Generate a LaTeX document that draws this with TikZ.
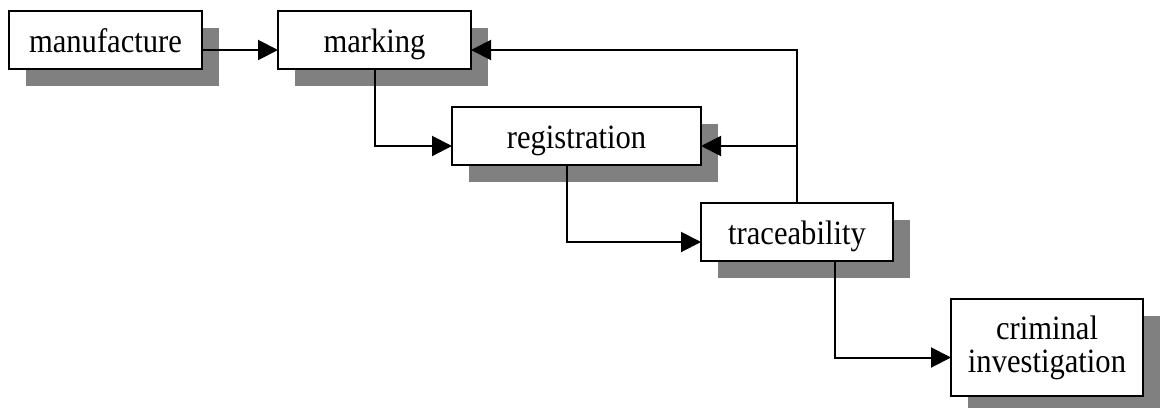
\documentclass[tikz,border=0pt]{standalone}
\usepackage{fontspec}
\setmainfont{Liberation Serif}
\usetikzlibrary{arrows.meta,shadows}
\newcommand{\tx}[1]{\scalebox{0.9}[1]{#1}}
\begin{document}
\begin{tikzpicture}[x=1pt,y=-1pt,
  box/.style={draw=black, line width=2.1pt, fill=white, inner sep=0pt, outer sep=0pt,
    font=\fontsize{34}{33}\selectfont, align=center,
    drop shadow={shadow xshift=16.5pt, shadow yshift=-16.5pt, fill=black!50, opacity=1}},
  one/.style={text height=25pt, text depth=1pt},
  conn/.style={line width=2pt, -{Triangle[length=20pt,width=20pt]}}]
\useasboundingbox (0,0) rectangle (1161,407);
\node[box,one,minimum width=193pt,minimum height=58pt] (man) at (105.5,40) {\tx{manufacture}};
\node[box,one,minimum width=193pt,minimum height=58pt] (mark) at (374.5,40) {\tx{marking}};
\node[box,one,minimum width=249pt,minimum height=58pt] (reg) at (576.5,136) {\tx{registration}};
\node[box,one,minimum width=192pt,minimum height=58pt] (trace) at (797,232) {\tx{traceability}};
\node[box,minimum width=192pt,minimum height=97pt] (crim) at (1047,347.5) {\tx{criminal}\\\tx{investigation}};
\draw[conn] ([yshift=-10pt]man.east) -- ([yshift=-10pt]mark.west);
\draw[conn] (mark.south) |- ([yshift=-10pt]reg.west);
\draw[conn] ([xshift=-9.5pt]reg.south) |- ([yshift=-10pt]trace.west);
\draw[conn] ([xshift=38pt]trace.south) |- ([yshift=-10pt]crim.west);
\draw[conn] (trace.north) |- ([yshift=-10pt]mark.east);
\path ([yshift=-10pt]reg.east) coordinate (regin);
\coordinate (br) at (trace.north |- regin);
\draw[conn] (br) -- (regin);
\end{tikzpicture}
\end{document}
